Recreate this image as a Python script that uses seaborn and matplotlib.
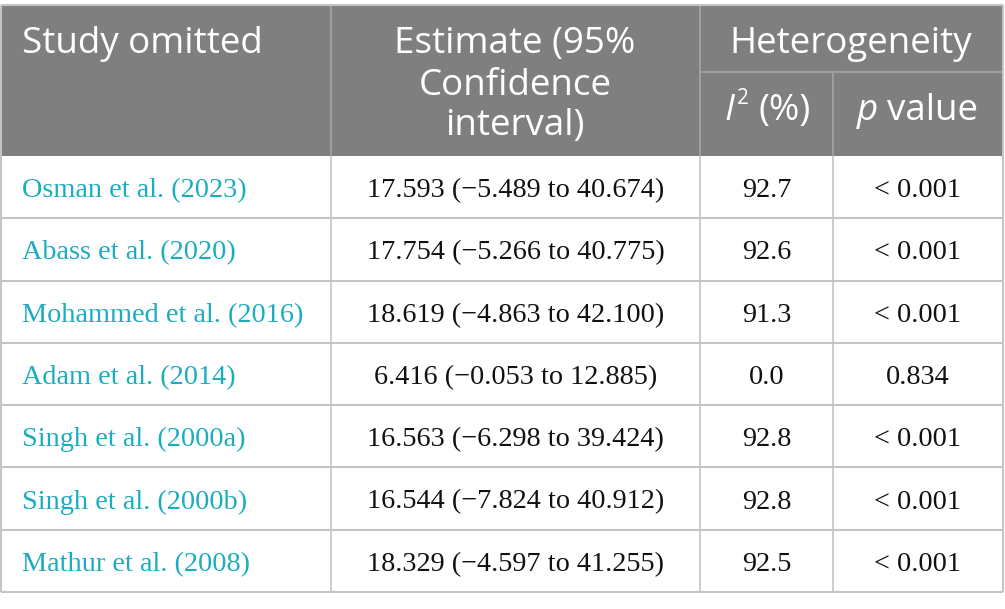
import matplotlib
matplotlib.use("Agg")
import matplotlib.pyplot as plt
import seaborn as sns
from matplotlib.patches import Rectangle

studies = ["Osman et al. (2023)", "Abass et al. (2020)", "Mohammed et al. (2016)",
           "Adam et al. (2014)", "Singh et al. (2000a)", "Singh et al. (2000b)",
           "Mathur et al. (2008)"]
estimates = ["17.593 (\u22125.489 to 40.674)", "17.754 (\u22125.266 to 40.775)",
             "18.619 (\u22124.863 to 42.100)", "6.416 (\u22120.053 to 12.885)",
             "16.563 (\u22126.298 to 39.424)", "16.544 (\u22127.824 to 40.912)",
             "18.329 (\u22124.597 to 41.255)"]
i2_values = ["92.7", "92.6", "91.3", "0.0", "92.8", "92.8", "92.5"]
p_values = ["< 0.001", "< 0.001", "< 0.001", "0.834", "< 0.001", "< 0.001", "< 0.001"]

sns.set_theme(style="white")
W, H = 1005, 609
fig = plt.figure(figsize=(W / 100, H / 100), dpi=100)
ax = fig.add_axes([0, 0, 1, 1])
ax.set_xlim(0, W)
ax.set_ylim(H, 0)
ax.axis("off")

col_x = [0.5, 331, 700, 833, 1002.5]
top, head_bot, mid_head = 4.5, 156, 72
row_h = (592 - head_bot) / len(studies)
bottom = head_bot + row_h * len(studies)

header_bg = "#7f7f7f"
grid = "#c4c4c4"
link = "#1badbf"
hfam = ["Open Sans", "DejaVu Sans"]
hfont = dict(family=hfam, size=26.5, color="white")
bfont = dict(family=["Liberation Serif", "DejaVu Serif"], size=20.3, color="#111111")

ax.add_patch(Rectangle((col_x[0], top), col_x[-1] - col_x[0], head_bot - top,
                       facecolor=header_bg, edgecolor="none"))

# header separators
ax.vlines([col_x[1], col_x[2]], top, head_bot, color="#a5a5a5", lw=1.2)
ax.vlines(col_x[3], mid_head, head_bot, color="#a5a5a5", lw=1.2)
ax.hlines(mid_head, col_x[2], col_x[4], color="#a5a5a5", lw=1.2)

# body grid
ys = [head_bot + i * row_h for i in range(len(studies) + 1)]
ax.hlines(ys[1:], col_x[0], col_x[-1], color=grid, lw=1.5)
ax.vlines(col_x[1:-1], head_bot, bottom, color=grid, lw=1.2)
ax.vlines([col_x[0], col_x[-1]], top, bottom, color=grid, lw=1.5)
ax.hlines(top, col_x[0], col_x[-1], color=grid, lw=1.5)

# header texts
ax.text(22, 53, "Study omitted", ha="left", va="baseline", **hfont)
ax.text(515, 53, "Estimate (95%", ha="center", va="baseline", **hfont)
ax.text(515, 95, "Confidence", ha="center", va="baseline", **hfont)
ax.text(515, 135, "interval)", ha="center", va="baseline", **hfont)
ax.text(851, 53, "Heterogeneity", ha="center", va="baseline", **hfont)
ax.text(724, 120, "I", ha="left", va="baseline", style="italic", **hfont)
ax.text(737, 104, "2", ha="left", va="baseline", family=hfam, size=15, color="white")
ax.text(758, 120, "(%)", ha="left", va="baseline", **hfont)
ax.text(857, 120, "p", ha="left", va="baseline", style="italic", **hfont)
ax.text(887, 120, "value", ha="left", va="baseline", **hfont)

for i, (s, e, i2, p) in enumerate(zip(studies, estimates, i2_values, p_values)):
    yb = head_bot + (i + 0.5) * row_h + 10
    ax.text(22, yb, s, ha="left", va="baseline", **{**bfont, "color": link})
    ax.text((col_x[1] + col_x[2]) / 2, yb, e, ha="center", va="baseline", **bfont)
    ax.text((col_x[2] + col_x[3]) / 2, yb, i2, ha="center", va="baseline", **bfont)
    ax.text((col_x[3] + col_x[4]) / 2, yb, p, ha="center", va="baseline", **bfont)

fig.savefig("out.png", dpi=100, facecolor="white")
